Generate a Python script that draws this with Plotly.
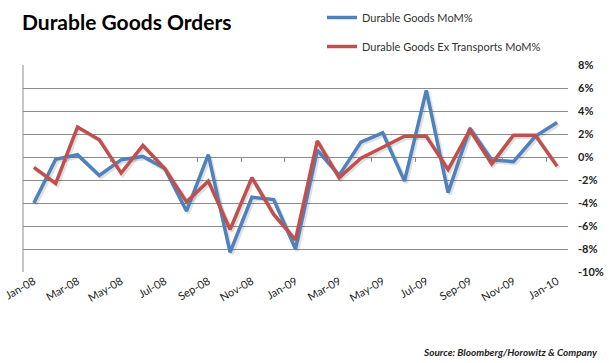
import plotly.graph_objects as go

months = ["Jan-08","Feb-08","Mar-08","Apr-08","May-08","Jun-08","Jul-08","Aug-08","Sep-08","Oct-08","Nov-08","Dec-08",
          "Jan-09","Feb-09","Mar-09","Apr-09","May-09","Jun-09","Jul-09","Aug-09","Sep-09","Oct-09","Nov-09","Dec-09","Jan-10"]
durable = [-4.0,-0.2,0.2,-1.6,-0.25,0.05,-1.0,-4.7,0.2,-8.3,-3.5,-3.7,
           -8.0,0.6,-1.6,1.3,2.1,-2.1,5.8,-3.1,2.5,-0.25,-0.4,1.8,3.0]
ex_transport = [-0.9,-2.3,2.6,1.5,-1.4,1.0,-1.0,-3.9,-2.1,-6.3,-1.8,-5.0,
                -7.2,1.4,-1.8,-0.1,0.85,1.8,1.8,-1.1,2.35,-0.6,1.9,1.9,-0.8]
tick_labels = months[::2]
tick_idx = list(range(0, len(months), 2))
y_ticks = list(range(-10, 9, 2))

x = list(range(len(months)))
blue = "#4F81BD"
red = "#C0504D"

W, H = 610, 363
L, R, T, B = 23, 42, 65, 91
PW, PH = W - L - R, H - T - B

fig = go.Figure()
# shadows
for ys in (durable, ex_transport):
    fig.add_trace(go.Scatter(x=[v + 0.08 for v in x], y=[v - 0.15 for v in ys], mode="lines",
                             line=dict(color="rgba(0,0,0,0.12)", width=4), showlegend=False, hoverinfo="skip"))
fig.add_trace(go.Scatter(x=x, y=durable, mode="lines", name="Durable Goods MoM%",
                         line=dict(color=blue, width=3.5), legendgroup="a"))
fig.add_trace(go.Scatter(x=x, y=ex_transport, mode="lines", name="Durable Goods Ex Transports MoM%",
                         line=dict(color=red, width=3.5), legendgroup="b"))

fig.update_layout(
    width=W, height=H,
    margin=dict(l=L, r=R, t=T, b=B, autoexpand=False),
    paper_bgcolor="white", plot_bgcolor="white",
    font=dict(family="Lato, Open Sans, sans-serif", color="#222"),
    title=dict(text="<b>Durable Goods Orders</b>", x=22/W, xanchor="left", y=1-23/H, yanchor="middle",
               font=dict(size=21, color="black", family="Lato, sans-serif")),
    legend=dict(x=(322-L)/PW, y=1 + (T-3)/PH, xanchor="left", yanchor="top",
                font=dict(size=11, color="#333"), tracegroupgap=10, bgcolor="rgba(0,0,0,0)",
                itemwidth=30),
    xaxis=dict(range=[-0.5, 24.5], tickvals=tick_idx, ticktext=tick_labels, tickangle=-30,
               showgrid=False, zeroline=False, showline=False, ticks="",
               tickfont=dict(size=11, color="#222")),
    yaxis=dict(range=[-10, 8], tickvals=y_ticks, ticktext=[f"<b>{v}%</b>" for v in y_ticks], side="right",
               showgrid=True, gridcolor="#8c8c8c", gridwidth=1, zeroline=False, showline=False,
               ticks="", ticklabelstandoff=9,
               tickfont=dict(size=11, color="#222")),
    xaxis2=dict(range=[-0.5, 24.5], overlaying="x", anchor="free", position=10/18, side="bottom",
                tickvals=[v + 0.5 for v in range(1, 24, 2)], showticklabels=False, ticks="outside",
                ticklen=4, tickcolor="#8c8c8c", showgrid=False, zeroline=False, showline=False),
)
fig.add_trace(go.Scatter(x=[0], y=[0], xaxis="x2", mode="markers", marker=dict(opacity=0), showlegend=False, hoverinfo="skip"))
# left border
fig.add_shape(type="line", xref="paper", yref="paper", x0=0, x1=0, y0=0, y1=1, line=dict(color="#8c8c8c", width=1))
fig.add_annotation(text="<i><b>Source: Bloomberg/Horowitz &amp; Company</b></i>", xref="paper", yref="paper",
                   x=(600-L)/PW, y=-(352-(T+PH))/PH, xanchor="right", yanchor="middle", showarrow=False,
                   font=dict(size=10, color="#222"))
fig.write_html("out.html", config={"displayModeBar": False},
               post_script="document.body.style.margin='0';")
